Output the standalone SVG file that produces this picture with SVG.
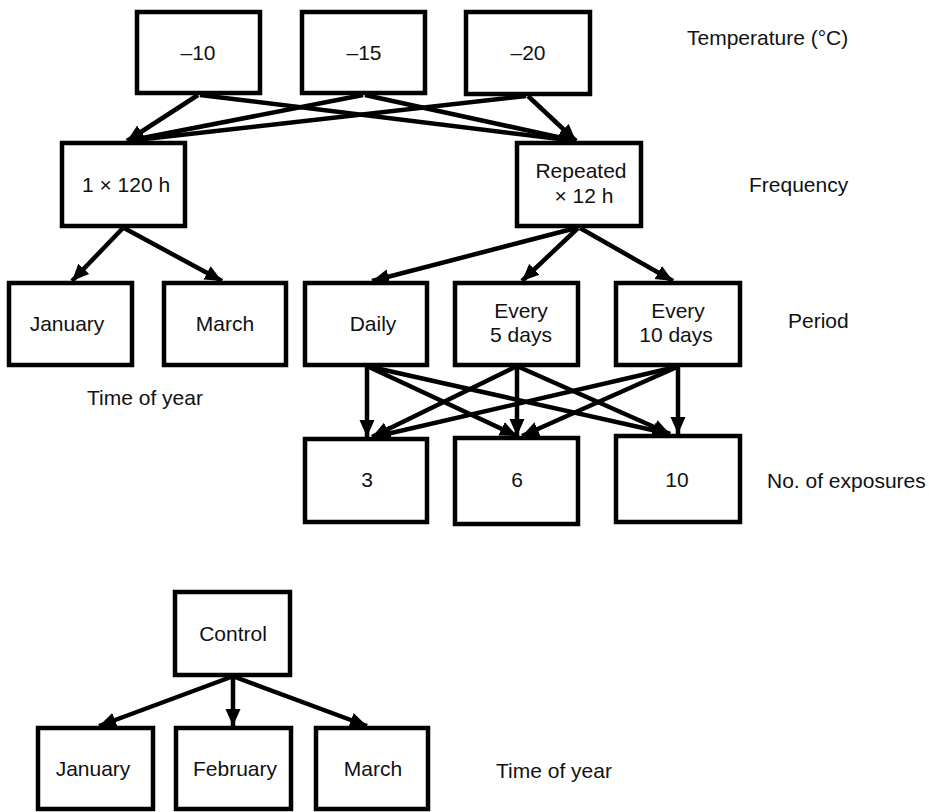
<svg xmlns="http://www.w3.org/2000/svg" width="929" height="812" viewBox="0 0 929 812">
<style>
.box{fill:#fff;stroke:#000;stroke-width:4.5}
.t{font-family:"Liberation Sans",Arial,sans-serif;font-size:21px;fill:#111;text-anchor:middle}
.lab{font-family:"Liberation Sans",Arial,sans-serif;font-size:21px;fill:#111}
.c line{stroke:#000;stroke-width:4.5;fill:none;marker-end:url(#ah)}
</style>
<defs>
<marker id="ah" markerUnits="userSpaceOnUse" markerWidth="18" markerHeight="18" viewBox="0 0 18 18" refX="17" refY="9" orient="auto">
<path d="M0,1.5 L17,9 L0,16.5 Z" fill="#000"/>
</marker>
</defs>
<rect width="929" height="812" fill="#fff"/>
<g id="connectors" class="c">
<line x1="198" y1="95" x2="127" y2="141"/>
<line x1="363" y1="95" x2="127" y2="141"/>
<line x1="526" y1="96" x2="127" y2="141"/>
<line x1="200" y1="95" x2="576" y2="141"/>
<line x1="365" y1="95" x2="576" y2="141"/>
<line x1="528" y1="96" x2="576" y2="141"/>
<line x1="123" y1="228" x2="72" y2="281"/>
<line x1="124" y1="228" x2="222" y2="281"/>
<line x1="576" y1="228" x2="372" y2="281"/>
<line x1="578" y1="228" x2="522" y2="281"/>
<line x1="580" y1="228" x2="673" y2="281"/>
<line x1="367" y1="367" x2="367" y2="437"/>
<line x1="369" y1="367" x2="517" y2="436"/>
<line x1="371" y1="367" x2="670" y2="434"/>
<line x1="515" y1="367" x2="372" y2="437"/>
<line x1="517" y1="367" x2="517" y2="436"/>
<line x1="519" y1="367" x2="670" y2="434"/>
<line x1="676" y1="367" x2="374" y2="437"/>
<line x1="677" y1="367" x2="522" y2="436"/>
<line x1="678" y1="367" x2="678" y2="434"/>
<line x1="231" y1="677" x2="99" y2="726"/>
<line x1="233" y1="677" x2="233" y2="726"/>
<line x1="235" y1="677" x2="367" y2="726"/>
</g>
<g id="n_m10"><rect class="box" x="137" y="12" width="123" height="81"/><text class="t" x="198" y="60">–10</text></g>
<g id="n_m15"><rect class="box" x="302" y="12" width="123" height="81"/><text class="t" x="364" y="60">–15</text></g>
<g id="n_m20"><rect class="box" x="466" y="12" width="124" height="82"/><text class="t" x="528" y="60">–20</text></g>
<g id="n_once"><rect class="box" x="62" y="143" width="123" height="83"/><text class="t" x="126" y="192">1 × 120 h</text></g>
<g id="n_rep"><rect class="box" x="517" y="143" width="124" height="83"/><text class="t" x="581" y="178">Repeated</text><text class="t" x="584" y="203">× 12 h</text></g>
<g id="n_jan1"><rect class="box" x="9" y="283" width="123" height="82"/><text class="t" x="67" y="331">January</text></g>
<g id="n_mar1"><rect class="box" x="164" y="283" width="122" height="82"/><text class="t" x="225" y="331">March</text></g>
<g id="n_daily"><rect class="box" x="305" y="283" width="122" height="82"/><text class="t" x="373" y="331">Daily</text></g>
<g id="n_e5"><rect class="box" x="455" y="283" width="123" height="82"/><text class="t" x="521" y="318">Every</text><text class="t" x="521" y="342">5 days</text></g>
<g id="n_e10"><rect class="box" x="616" y="283" width="124" height="82"/><text class="t" x="678" y="318">Every</text><text class="t" x="676" y="342">10 days</text></g>
<g id="n_3"><rect class="box" x="305" y="439" width="122" height="83"/><text class="t" x="367" y="487">3</text></g>
<g id="n_6"><rect class="box" x="455" y="438" width="123" height="86"/><text class="t" x="517" y="487">6</text></g>
<g id="n_10"><rect class="box" x="616" y="436" width="124" height="86"/><text class="t" x="677" y="487">10</text></g>
<g id="n_control"><rect class="box" x="175" y="592" width="115" height="83"/><text class="t" x="233" y="641">Control</text></g>
<g id="n_jan2"><rect class="box" x="38" y="728" width="115" height="81"/><text class="t" x="93" y="776">January</text></g>
<g id="n_feb"><rect class="box" x="176" y="728" width="115" height="81"/><text class="t" x="235" y="776">February</text></g>
<g id="n_mar2"><rect class="box" x="316" y="728" width="112" height="81"/><text class="t" x="373" y="776">March</text></g>
<g id="labels">
<text class="lab" x="687" y="45">Temperature (°C)</text>
<text class="lab" x="749" y="192">Frequency</text>
<text class="lab" x="788" y="328">Period</text>
<text class="lab" x="767" y="488">No. of exposures</text>
<text class="t" x="145" y="405">Time of year</text>
<text class="lab" x="496" y="778">Time of year</text>
</g>
</svg>
